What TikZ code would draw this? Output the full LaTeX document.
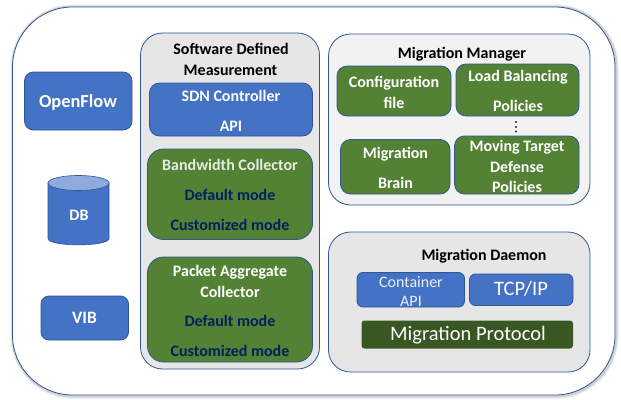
\documentclass[tikz,border=0pt]{standalone}
\usepackage{fontspec}
\setmainfont{Carlito}
\definecolor{bluef}{HTML}{4472C4}
\definecolor{blued}{HTML}{2F5597}
\definecolor{greenf}{HTML}{548235}
\definecolor{greend}{HTML}{385723}
\definecolor{navy}{HTML}{002060}
\definecolor{panelA}{HTML}{E7E6E6}
\definecolor{panelB}{HTML}{F2F2F2}
\tikzset{
  bx/.style={draw=blued,line width=0.8pt,inner sep=0pt,outer sep=0pt,rectangle},
  bluebox/.style={bx,fill=bluef},
  greenbox/.style={bx,fill=greenf},
  lab/.style={inner sep=0pt,text height=14pt,text depth=3pt,font=\bfseries\fontsize{16}{18}\selectfont},
  wlab/.style={lab,text=white},
  nlab/.style={lab,text=navy},
  klab/.style={lab,text=black},
  gwlab/.style={lab,text=white!85!greenf},
  thinlab/.style={inner sep=0pt,text height=14pt,text depth=3pt,text=white!90!bluef,font=\fontsize{16}{18}\selectfont},
  biglab/.style={inner sep=0pt,text height=14pt,text depth=4pt,text=white,font=\fontsize{20.5}{22}\selectfont},
}
\newcommand{\bxnode}[7][]{% style, name, x1,y1,x2,y2, radius
  \pgfmathsetmacro{\bw}{#5-#3}\pgfmathsetmacro{\bh}{#6-#4}
  \pgfmathsetmacro{\bcx}{(#5+#3)/2}\pgfmathsetmacro{\bcy}{(#6+#4)/2}
  \node[#1,rounded corners=#7pt,minimum width=\bw pt,minimum height=\bh pt] (#2) at (\bcx,\bcy) {};
}
\begin{document}
\begin{tikzpicture}[x=1pt,y=-1pt]
\useasboundingbox (0,0) rectangle (621,399);
\fill[white] (0,0) rectangle (621,399);
% outer shadow
\draw[black!7,line width=6pt,rounded corners=60pt] (13.5,7.5) rectangle (615.5,396);
\draw[black!18,line width=3pt,rounded corners=60pt] (13,7) rectangle (616,396);
\bxnode[bx,fill=white]{outer}{12.5}{7}{615}{395}{60}
% panels
\bxnode[bx,fill=panelA]{sdm}{140.5}{33}{319.5}{369}{22}
\bxnode[bx,fill=panelB]{mm}{328.5}{34}{590}{205}{22}
\bxnode[bx,fill=panelA]{md}{328.5}{232}{590}{372}{22}
% left
\bxnode[bluebox]{of}{24.5}{72}{132}{130}{9}
\bxnode[bluebox]{vib}{41}{296}{128.5}{340}{8}
\node[wlab,font=\bfseries\fontsize{18.4}{20}\selectfont] (oft) at (78,102) {OpenFlow};
\node[wlab,font=\bfseries\fontsize{17.4}{20}\selectfont] (vibt) at (84.5,318) {VIB};
\draw[draw=blued,fill=bluef,line width=0.6pt] (48,183) -- (48,238.5) .. controls (48,247) and (109,247) .. (109,238.5) -- (109,183) -- cycle;
\draw[draw=blued,fill=bluef!60!white,line width=0.6pt] (78.5,183) ellipse [x radius=30.5pt,y radius=7.5pt];
\node[wlab] (dbt) at (79,215) {DB};
% SDM
\node[klab] (sdm1) at (231,49) {Software Defined};
\node[klab] (sdm2) at (230.5,69.5) {Measurement};
\bxnode[bluebox]{sdn}{149.5}{83}{312.5}{136}{10}
\node[wlab] (sdn1) at (231,96) {SDN Controller};
\node[wlab] (sdn2) at (231,125.5) {API};
\bxnode[greenbox]{bw}{147.5}{149}{312.5}{239.5}{16}
\node[gwlab] (bw1) at (230,165) {Bandwidth Collector};
\node[nlab] (bw2) at (230,194.5) {Default mode};
\node[nlab] (bw3) at (230,224.5) {Customized mode};
\bxnode[greenbox]{pa}{147.5}{257}{312.5}{362}{16}
\node[wlab] (pa1) at (230,271) {Packet Aggregate};
\node[wlab] (pa2) at (230,291.5) {Collector};
\node[nlab] (pa3) at (230,320.5) {Default mode};
\node[nlab] (pa4) at (230,350.5) {Customized mode};
% MM
\node[klab] (mmt) at (462,52.5) {Migration Manager};
\bxnode[greenbox]{cfg}{337}{66}{451}{116}{10}
\bxnode[greenbox]{lb}{456}{64}{579}{116}{10}
\bxnode[greenbox]{brain}{340.5}{139.5}{450}{194}{10}
\bxnode[greenbox]{mtd}{454.5}{136}{579}{194}{10}
\node[wlab] (cfg1) at (394,82) {Configuration};
\node[wlab] (cfg2) at (394,102.5) {file};
\node[wlab] (lb1) at (518,76) {Load Balancing};
\node[wlab] (lb2) at (518,106) {Policies};
\node[wlab] (br1) at (395.5,153) {Migration};
\node[wlab] (br2) at (395.5,183) {Brain};
\node[wlab] (mt1) at (517,146) {Moving Target};
\node[wlab] (mt2) at (517,166.5) {Defense};
\node[wlab] (mt3) at (517,186.5) {Policies};
\fill[black!85] (516,122) circle (1.1pt) (516,127) circle (1.1pt) (516,131.5) circle (1.1pt);
% Daemon
\node[klab] (mdt) at (484,255) {Migration Daemon};
\bxnode[bluebox]{capi}{357}{272.5}{464.5}{307}{6}
\bxnode[bluebox]{tcp}{469.5}{274}{573}{305.5}{6}
\node[thinlab] (c1) at (411,281.5) {Container};
\node[thinlab] (c2) at (411,300.5) {API};
\node[biglab] (tt) at (521,290) {TCP/IP};
\node[fill=greend,rounded corners=3pt,inner sep=0pt,minimum width=211.5pt,minimum height=28pt] (mp) at (467.25,334.5) {};
\node[biglab] (mpt) at (468,335) {Migration Protocol};
\end{tikzpicture}
\end{document}
